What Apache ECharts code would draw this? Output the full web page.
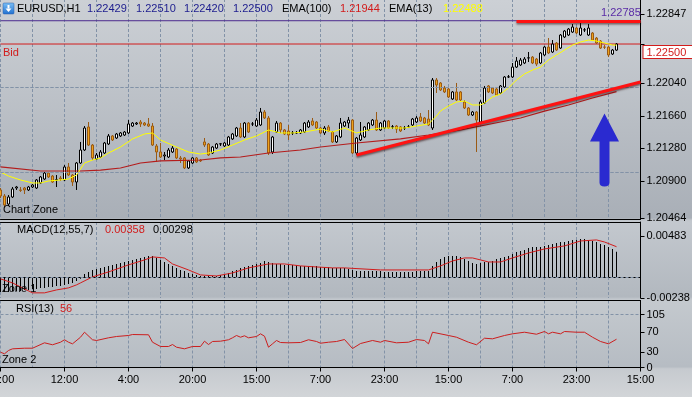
<!DOCTYPE html>
<html>
<head>
<meta charset="utf-8">
<script src="https://cdn.jsdelivr.net/npm/echarts@6/dist/echarts.min.js"></script>
<style>
  html, body { margin: 0; padding: 0; background: #c8ccd1; }
  #main { width: 692px; height: 397px; }
</style>
</head>
<body>
<div id="main"></div>
<script>
// EURUSD H1, one entry per bar (bar 0 = leftmost)
var timeLabels = ['20:00', '12:00', '4:00', '20:00', '15:00', '7:00', '23:00', '15:00', '7:00', '23:00', '15:00'];

var opens = [1.20795,1.20725,1.20631,1.20713,1.20818,1.20795,1.20818,1.20795,1.20830,1.20818,
  1.20877,1.20923,1.20993,1.20958,1.20912,1.20935,1.20912,1.21064,1.20970,1.20888,
  1.21110,1.21262,1.21531,1.21320,1.21157,1.21180,1.21227,1.21332,1.21426,1.21402,
  1.21426,1.21437,1.21461,1.21542,1.21566,1.21589,1.21577,1.21566,1.21542,1.21309,
  1.21239,1.21192,1.21180,1.21239,1.21274,1.21169,1.21169,1.21052,1.21110,1.21169,
  1.21145,1.21356,1.21332,1.21227,1.21285,1.21332,1.21309,1.21320,1.21391,1.21426,
  1.21519,1.21414,1.21577,1.21566,1.21542,1.21554,1.21706,1.21636,1.21239,1.21472,
  1.21577,1.21496,1.21484,1.21461,1.21461,1.21461,1.21472,1.21531,1.21601,1.21589,
  1.21519,1.21461,1.21531,1.21472,1.21356,1.21414,1.21542,1.21577,1.21612,1.21227,
  1.21379,1.21414,1.21496,1.21554,1.21612,1.21496,1.21519,1.21601,1.21531,1.21542,
  1.21531,1.21519,1.21531,1.21554,1.21589,1.21648,1.21636,1.21624,1.21519,1.22080,
  1.22045,1.21986,1.21975,1.21858,1.21940,1.21940,1.21823,1.21753,1.21671,1.21706,
  1.21589,1.21811,1.22010,1.21986,1.21975,1.21928,1.21998,1.22115,1.22115,1.22231,
  1.22255,1.22278,1.22337,1.22348,1.22325,1.22278,1.22372,1.22465,1.22407,1.22512,
  1.22453,1.22582,1.22605,1.22640,1.22687,1.22605,1.22664,1.22605,1.22629,1.22570,
  1.22535,1.22465,1.22465,1.22383,1.22429];

var closes = [1.20725,1.20620,1.20713,1.20807,1.20830,1.20790,1.20795,1.20830,1.20853,1.20912,
  1.20947,1.20993,1.20947,1.20888,1.20915,1.20923,1.21064,1.20970,1.20888,1.21110,
  1.21262,1.21519,1.21320,1.21169,1.21204,1.21239,1.21344,1.21426,1.21379,1.21449,
  1.21461,1.21472,1.21566,1.21577,1.21577,1.21566,1.21554,1.21542,1.21320,1.21239,
  1.21180,1.21204,1.21262,1.21285,1.21169,1.21157,1.21052,1.21134,1.21169,1.21122,
  1.21134,1.21320,1.21204,1.21297,1.21332,1.21335,1.21344,1.21414,1.21449,1.21519,
  1.21414,1.21577,1.21472,1.21566,1.21612,1.21706,1.21636,1.21227,1.21414,1.21577,
  1.21496,1.21449,1.21437,1.21461,1.21463,1.21496,1.21577,1.21589,1.21554,1.21519,
  1.21461,1.21519,1.21484,1.21356,1.21426,1.21577,1.21589,1.21612,1.21227,1.21402,
  1.21437,1.21531,1.21577,1.21612,1.21496,1.21577,1.21601,1.21519,1.21533,1.21507,
  1.21484,1.21519,1.21531,1.21624,1.21636,1.21601,1.21577,1.21554,1.22080,1.22021,
  1.21963,1.21940,1.21881,1.21940,1.21846,1.21846,1.21753,1.21671,1.21706,1.21612,
  1.21823,1.21986,1.21940,1.21928,1.21904,1.22010,1.22115,1.22117,1.22231,1.22301,
  1.22313,1.22325,1.22339,1.22278,1.22266,1.22395,1.22465,1.22395,1.22500,1.22430,
  1.22605,1.22652,1.22675,1.22699,1.22629,1.22687,1.22666,1.22687,1.22547,1.22512,
  1.22453,1.22463,1.22372,1.22430,1.22500];

var lows = [1.20701,1.20596,1.20608,1.20701,1.20795,1.20772,1.20748,1.20783,1.20818,1.20807,
  1.20865,1.20912,1.20935,1.20877,1.20830,1.20900,1.20900,1.20958,1.20842,1.20795,
  1.21099,1.21250,1.21309,1.21145,1.21145,1.21169,1.21215,1.21320,1.21367,1.21391,
  1.21414,1.21426,1.21449,1.21531,1.21554,1.21531,1.21542,1.21531,1.21309,1.21122,
  1.21169,1.21145,1.21169,1.21227,1.21157,1.21110,1.21040,1.21040,1.21099,1.21110,
  1.21122,1.21297,1.21192,1.21215,1.21274,1.21309,1.21297,1.21309,1.21379,1.21414,
  1.21402,1.21402,1.21461,1.21542,1.21531,1.21542,1.21624,1.21204,1.21215,1.21461,
  1.21461,1.21437,1.21379,1.21437,1.21449,1.21449,1.21461,1.21519,1.21542,1.21507,
  1.21449,1.21437,1.21472,1.21344,1.21344,1.21402,1.21531,1.21519,1.21215,1.21204,
  1.21367,1.21402,1.21484,1.21542,1.21484,1.21484,1.21507,1.21507,1.21507,1.21461,
  1.21472,1.21496,1.21519,1.21542,1.21577,1.21589,1.21566,1.21542,1.21496,1.21928,
  1.21951,1.21928,1.21869,1.21846,1.21834,1.21834,1.21741,1.21659,1.21659,1.21239,
  1.21577,1.21799,1.21928,1.21916,1.21893,1.21916,1.21986,1.22103,1.22103,1.22220,
  1.22243,1.22266,1.22290,1.22266,1.22243,1.22266,1.22360,1.22383,1.22395,1.22418,
  1.22442,1.22570,1.22594,1.22629,1.22617,1.22594,1.22640,1.22594,1.22535,1.22500,
  1.22442,1.22442,1.22348,1.22372,1.22420];

var highs = [1.20818,1.20748,1.20736,1.20830,1.20842,1.20830,1.20830,1.20842,1.20865,1.20923,
  1.20958,1.21005,1.21005,1.20970,1.20970,1.20958,1.21087,1.21110,1.20982,1.21122,
  1.21356,1.21542,1.21589,1.21332,1.21227,1.21262,1.21356,1.21449,1.21437,1.21461,
  1.21472,1.21484,1.21612,1.21589,1.21589,1.21612,1.21589,1.21636,1.21577,1.21332,
  1.21344,1.21239,1.21285,1.21309,1.21285,1.21192,1.21180,1.21145,1.21180,1.21180,
  1.21157,1.21402,1.21344,1.21309,1.21344,1.21344,1.21356,1.21426,1.21461,1.21531,
  1.21577,1.21589,1.21589,1.21589,1.21636,1.21753,1.21729,1.21659,1.21426,1.21601,
  1.21589,1.21507,1.21554,1.21484,1.21484,1.21507,1.21589,1.21612,1.21636,1.21601,
  1.21531,1.21542,1.21554,1.21484,1.21437,1.21636,1.21601,1.21648,1.21624,1.21414,
  1.21589,1.21542,1.21589,1.21624,1.21706,1.21589,1.21612,1.21612,1.21554,1.21554,
  1.21542,1.21542,1.21554,1.21636,1.21659,1.21694,1.21648,1.21729,1.22103,1.22103,
  1.22056,1.22010,1.21986,1.21951,1.22045,1.21951,1.21846,1.21764,1.21718,1.21718,
  1.21846,1.22010,1.22021,1.21998,1.21986,1.22021,1.22126,1.22138,1.22278,1.22348,
  1.22337,1.22348,1.22407,1.22360,1.22337,1.22407,1.22477,1.22570,1.22547,1.22523,
  1.22617,1.22664,1.22687,1.22734,1.22699,1.22745,1.22687,1.22734,1.22640,1.22582,
  1.22547,1.22488,1.22477,1.22442,1.22510];

// [bar, value] readings of the moving averages
var ema13 = [[0,1.21005],[2,1.20958],[5,1.20912],[8,1.20877],[10,1.20877],[12,1.20900],[15,1.20912],
  [17,1.20923],[19,1.20970],[21,1.21110],[23,1.21145],[25,1.21169],[27,1.21227],[30,1.21297],
  [33,1.21391],[36,1.21449],[38,1.21461],[40,1.21379],[44,1.21297],[47,1.21239],[50,1.21215],
  [52,1.21227],[55,1.21262],[58,1.21320],[61,1.21379],[64,1.21426],[67,1.21496],[70,1.21461],
  [73,1.21461],[76,1.21472],[80,1.21507],[83,1.21472],[86,1.21519],[89,1.21461],[92,1.21496],
  [95,1.21519],[98,1.21519],[101,1.21519],[104,1.21542],[107,1.21566],[108,1.21612],[109,1.21659],
  [110,1.21718],[112,1.21776],[114,1.21823],[116,1.21834],[118,1.21788],[120,1.21788],[121,1.21811],
  [123,1.21881],[125,1.21916],[127,1.21986],[129,1.22080],[131,1.22150],[133,1.22196],[135,1.22231],
  [137,1.22313],[139,1.22372],[141,1.22430],[143,1.22488],[145,1.22523],[147,1.22547],[149,1.22535],
  [151,1.22512],[153,1.22488],[154,1.22488]];

var ema100 = [[0,1.21064],[10,1.21017],[20,1.21017],[25,1.21028],[30,1.21052],[35,1.21110],[40,1.21134],
  [50,1.21145],[55,1.21169],[60,1.21180],[67,1.21227],[75,1.21262],[80,1.21297],[89,1.21344],
  [100,1.21391],[107,1.21437],[115,1.21496],[120,1.21542],[125,1.21589],[130,1.21636],[136,1.21717],
  [142,1.21788],[148,1.21869],[154,1.21944]];

var macdHist = [-0.00169,-0.00169,-0.00169,-0.00157,-0.00157,-0.00157,-0.00146,-0.00146,-0.00134,-0.00134,
  -0.00122,-0.00122,-0.00111,-0.00111,-0.00099,-0.00099,-0.00087,-0.00076,-0.00064,-0.00041,
  -0.00017,0.00041,0.00064,0.00087,0.00099,0.00111,0.00122,0.00134,0.00146,0.00157,
  0.00169,0.00180,0.00192,0.00204,0.00215,0.00227,0.00239,0.00250,0.00250,0.00227,
  0.00204,0.00180,0.00157,0.00134,0.00111,0.00087,0.00076,0.00052,0.00041,0.00029,
  0.00017,0.00017,0.00017,0.00017,0.00017,0.00029,0.00041,0.00052,0.00076,0.00087,
  0.00111,0.00122,0.00134,0.00146,0.00157,0.00169,0.00192,0.00180,0.00169,0.00157,
  0.00157,0.00146,0.00146,0.00146,0.00146,0.00134,0.00134,0.00134,0.00134,0.00134,
  0.00122,0.00122,0.00122,0.00111,0.00111,0.00111,0.00111,0.00099,0.00087,0.00076,
  0.00076,0.00076,0.00076,0.00076,0.00076,0.00076,0.00064,0.00064,0.00064,0.00064,
  0.00064,0.00064,0.00064,0.00064,0.00076,0.00076,0.00076,0.00076,0.00134,0.00180,
  0.00215,0.00239,0.00250,0.00250,0.00250,0.00239,0.00215,0.00192,0.00169,0.00157,
  0.00169,0.00180,0.00180,0.00192,0.00215,0.00227,0.00239,0.00250,0.00274,0.00297,
  0.00308,0.00320,0.00343,0.00355,0.00355,0.00355,0.00367,0.00378,0.00390,0.00402,
  0.00413,0.00413,0.00425,0.00437,0.00437,0.00448,0.00448,0.00437,0.00425,0.00413,
  0.00390,0.00378,0.00355,0.00332,0.00298];

var macdSignal = [[0,-0.00017],[3,-0.00064],[5,-0.00111],[8,-0.00180],[11,-0.00180],[14,-0.00146],
  [17,-0.00122],[19,-0.00087],[20,-0.00064],[23,0.00006],[27,0.00064],[32,0.00146],[36,0.00204],
  [38,0.00239],[41,0.00227],[43,0.00157],[47,0.00087],[50,0.00029],[54,0.00017],[58,0.00052],
  [62,0.00111],[67,0.00157],[71,0.00157],[75,0.00134],[79,0.00122],[83,0.00111],[86,0.00111],
  [95,0.00087],[107,0.00087],[110,0.00134],[113,0.00192],[116,0.00227],[118,0.00227],[120,0.00204],
  [122,0.00180],[125,0.00180],[128,0.00227],[132,0.00285],[136,0.00332],[141,0.00367],[145,0.00425],
  [149,0.00437],[151,0.00413],[154,0.00358]];

var rsi = [[0,30.3],[1,27.1],[2,33.7],[3,37.0],[6,38.2],[8,38.2],[11,48.9],[13,45.0],[15,50.1],[16,54.9],
  [17,50.1],[18,46.9],[20,60.0],[21,69.9],[23,54.9],[24,53.5],[27,58.8],[29,61.4],[32,63.4],[33,65.3],
  [37,64.8],[38,50.1],[40,41.6],[42,41.6],[43,45.5],[44,40.2],[46,37.0],[48,41.6],[50,41.6],[51,52.1],
  [52,45.5],[53,51.5],[55,52.1],[57,54.9],[58,58.8],[59,63.4],[60,60.0],[61,62.8],[62,58.8],[64,61.4],
  [65,66.7],[66,62.0],[67,40.2],[68,46.9],[69,53.5],[70,49.5],[72,48.9],[75,49.5],[77,54.9],[79,51.5],
  [80,48.1],[82,50.1],[84,51.5],[86,55.4],[88,37.6],[90,47.5],[93,53.5],[95,50.1],[96,53.5],[99,48.9],
  [102,50.1],[104,55.4],[106,53.5],[107,46.9],[108,69.9],[112,63.4],[114,60.0],[117,50.1],[119,45.0],
  [121,58.0],[123,56.8],[126,63.4],[128,66.7],[131,69.9],[134,65.9],[136,71.3],[137,66.7],[138,69.9],
  [140,66.7],[141,71.3],[144,69.9],[146,69.9],[148,60.0],[150,51.5],[152,46.9],[154,56]];

// drawn objects and scale marks
var trendLine = [[89, 1.21204], [160, 1.22056]];
var resistance = [[129, 1.22762], [160, 1.22762]];
var highLevel = 1.22772;
var bidPrice = 1.225;
var arrowAt = [[151, 1.21262]];
var priceTicks = [1.22847, 1.22500, 1.22040, 1.21660, 1.21280, 1.20900, 1.20464];
var priceGrid = [1.2204, 1.2166, 1.2128, 1.2090];
var macdTicks = [0.00483, -0.00238];
var rsiTicks = [0, 30, 70, 105];

var FONT = '"Liberation Sans", Arial, sans-serif';
var RED = '#d21c1c';
var GRIDLINE = { color: '#8292a7', type: [3, 2], width: 1 };

var categories = [];
for (var i = 0; i <= 160; i++) categories.push(String(i));

var candles = opens.map(function (o, i) { return [o, closes[i], lows[i], highs[i]]; });
var last = opens.length - 1;

function flat(v) { return [[0, v], [160, v]]; }

function xAxisFor(grid, opts) {
  var ax = {
    type: 'category', gridIndex: grid, data: categories, boundaryGap: false,
    axisLine: { show: true, lineStyle: { color: '#000', width: 1 } },
    axisTick: { show: false }, axisLabel: { show: false },
    splitLine: { show: true, interval: 7, lineStyle: GRIDLINE }
  };
  for (var k in opts) ax[k] = opts[k];
  return ax;
}

function gridLines(x, y, values) {
  return {
    type: 'line', xAxisIndex: x, yAxisIndex: y, data: [], silent: true, z: 1,
    markLine: {
      symbol: 'none', silent: true, animation: false, label: { show: false },
      lineStyle: GRIDLINE,
      data: values.map(function (v) { return { yAxis: v }; })
    }
  };
}

var txt = function (s, x, y, color) {
  return { type: 'text', x: x, y: y, silent: true, z: 100,
    style: { text: s, fill: color || '#000', font: '11px ' + FONT, verticalAlign: 'middle' } };
};

var navy = '#1c1c8e';
var graphics = [
  { type: 'rect', shape: { x: 3, y: 3, width: 11, height: 11, r: 1 }, silent: true, z: 100,
    style: { fill: new echarts.graphic.LinearGradient(0, 0, 0, 1, [{ offset: 0, color: '#7cc0f6' }, { offset: 1, color: '#1f6fd0' }]), stroke: '#2a5fa8', lineWidth: 0.5 } },
  { type: 'rect', shape: { x: 7.5, y: 5, width: 2, height: 3.5 }, style: { fill: '#fff' }, silent: true, z: 101 },
  { type: 'polygon', shape: { points: [[5.5, 8.5], [11.5, 8.5], [8.5, 12]] }, style: { fill: '#fff' }, silent: true, z: 101 },
  txt('EURUSD,H1', 17, 9),
  txt(opens[last].toFixed(5), 87, 9, navy),
  txt(highs[last].toFixed(5), 136, 9, navy),
  txt(lows[last].toFixed(5), 184, 9, navy),
  txt(closes[last].toFixed(5), 233, 9, navy),
  txt('EMA(100)', 282, 9),
  txt(ema100[ema100.length - 1][1].toFixed(5), 340, 9, RED),
  txt('EMA(13)', 389, 9),
  txt(ema13[ema13.length - 1][1].toFixed(5), 443, 9, '#ffff00'),
  txt('1.22785', 601, 13, '#5a2ca6'),
  txt('Bid', 3, 53, RED),
  txt('Chart Zone', 3, 210),
  txt('MACD(12,55,7)', 17, 230),
  txt(macdSignal[macdSignal.length - 1][1].toFixed(5), 105, 230, RED),
  txt(macdHist[last].toFixed(5), 153, 230),
  txt('Zone 1', 2, 289),
  txt('RSI(13)', 16, 309),
  txt(String(rsi[rsi.length - 1][1]), 60, 309, RED),
  txt('Zone 2', 2, 360)
];

var arrowPath = 'path://M14.5 0 L29 28 L19.5 28 L19.5 69 Q19.5 73 14.5 73 Q9.5 73 9.5 69 L9.5 28 L0 28 Z';

var option = {
  animation: false,
  backgroundColor: new echarts.graphic.LinearGradient(0, 0, 0, 1, [
    { offset: 0, color: '#ccd0d5' },
    { offset: 0.549, color: '#a9afb7' },
    { offset: 0.554, color: '#c0c5cb' },
    { offset: 0.559, color: '#c3c8ce' },
    { offset: 0.748, color: '#b2b8bf' },
    { offset: 0.753, color: '#c1c6cc' },
    { offset: 0.758, color: '#c4c9ce' },
    { offset: 0.924, color: '#b6bcc3' },
    { offset: 0.929, color: '#c6cacf' },
    { offset: 1, color: '#d2d5d8' }
  ]),
  textStyle: { fontFamily: FONT, fontSize: 11 },
  grid: [
    { left: 0.5, right: 51.5, top: -1, height: 220, outerBoundsMode: 'none' },
    { left: 0.5, right: 51.5, top: 222, height: 76, outerBoundsMode: 'none' },
    { left: 0.5, right: 51.5, top: 300.5, height: 67, outerBoundsMode: 'none' }
  ],
  xAxis: [
    xAxisFor(0, {}),
    xAxisFor(1, {}),
    xAxisFor(2, {
      axisTick: { show: true, interval: 15, length: 4, lineStyle: { color: '#000' } },
      axisLabel: {
        show: true, interval: 15, margin: 7, color: '#000', fontSize: 11, fontFamily: FONT,
        formatter: function (v, idx) { return timeLabels[idx / 16] || ''; }
      }
    }),
    xAxisFor(1, { position: 'top', splitLine: { show: false } }),
    xAxisFor(2, { position: 'top', splitLine: { show: false } })
  ],
  yAxis: [
    {
      type: 'value', gridIndex: 0, position: 'right', min: 1.20456, max: 1.23026, scale: true,
      splitLine: { show: false },
      axisLine: { show: true, lineStyle: { color: '#000' } },
      axisTick: { show: true, length: 4, customValues: priceTicks, lineStyle: { color: '#000' } },
      axisLabel: {
        customValues: priceTicks, margin: 3,
        formatter: function (v) {
          if (Math.abs(v - bidPrice) < 1e-7) return '{g| }\n{b|' + v.toFixed(5) + '}';
          return '{n|' + v.toFixed(5) + '}';
        },
        rich: {
          n: { padding: [0, 0, 0, 3], color: '#000', fontSize: 11, fontFamily: FONT },
          g: { lineHeight: 16, fontSize: 1 },
          b: { color: RED, backgroundColor: '#ffffff', borderColor: RED, borderWidth: 1,
               padding: [1, 14, 0, 3], lineHeight: 11, fontSize: 11, fontFamily: FONT }
        }
      }
    },
    {
      type: 'value', gridIndex: 1, position: 'right', min: -0.0024, max: 0.00646,
      splitLine: { show: false },
      axisLine: { show: true, lineStyle: { color: '#000' } },
      axisTick: { show: true, length: 4, customValues: macdTicks, lineStyle: { color: '#000' } },
      axisLabel: { customValues: macdTicks, margin: 6, color: '#000', fontSize: 11, fontFamily: FONT,
        formatter: function (v) { return v.toFixed(5); } }
    },
    {
      type: 'value', gridIndex: 2, position: 'right', min: 0, max: 132.7,
      splitLine: { show: false },
      axisLine: { show: true, lineStyle: { color: '#000' } },
      axisTick: { show: true, length: 4, customValues: rsiTicks, lineStyle: { color: '#000' } },
      axisLabel: { customValues: rsiTicks, margin: 6, color: '#000', fontSize: 11, fontFamily: FONT,
        formatter: function (v) { return String(v); } }
    }
  ],
  series: [
    gridLines(0, 0, priceGrid),
    gridLines(1, 1, [macdTicks[0]]),
    gridLines(2, 2, [105]),
    { name: 'high', type: 'line', xAxisIndex: 0, yAxisIndex: 0, data: flat(highLevel), showSymbol: false, silent: true, z: 2,
      lineStyle: { color: '#4b2a8e', width: 1 } },
    { name: 'bid', type: 'line', xAxisIndex: 0, yAxisIndex: 0, data: flat(bidPrice), showSymbol: false, silent: true, z: 2,
      lineStyle: { color: RED, width: 1 } },
    { name: 'EURUSD', type: 'candlestick', xAxisIndex: 0, yAxisIndex: 0, data: candles, barWidth: 3, z: 3,
      itemStyle: { color: '#ffffff', color0: '#eea21b', borderColor: '#000000', borderColor0: '#9a5a14', borderWidth: 1 } },
    { name: 'EMA(100)', type: 'line', xAxisIndex: 0, yAxisIndex: 0, data: ema100, showSymbol: false, z: 4,
      lineStyle: { color: '#b41c1c', width: 1.2 } },
    { name: 'EMA(13)', type: 'line', xAxisIndex: 0, yAxisIndex: 0, data: ema13, showSymbol: false, z: 4,
      lineStyle: { color: '#ffff00', width: 1 } },
    { name: 'trend', type: 'line', xAxisIndex: 0, yAxisIndex: 0, data: trendLine, showSymbol: false, z: 5,
      lineStyle: { color: '#ff1212', width: 3, shadowColor: 'rgba(40,0,0,0.55)', shadowBlur: 2, shadowOffsetY: 1.5 } },
    { name: 'resistance', type: 'line', xAxisIndex: 0, yAxisIndex: 0, data: resistance, showSymbol: false, z: 5,
      lineStyle: { color: '#ff1212', width: 3, shadowColor: 'rgba(40,0,0,0.55)', shadowBlur: 2, shadowOffsetY: 1.5 } },
    { name: 'arrow', type: 'scatter', xAxisIndex: 0, yAxisIndex: 0, data: arrowAt, symbol: arrowPath,
      symbolSize: [29, 73], silent: true, z: 6, itemStyle: { color: '#2a2ad0', opacity: 1 } },
    { name: 'MACD', type: 'bar', xAxisIndex: 1, yAxisIndex: 1, data: macdHist, barWidth: 1, z: 3,
      itemStyle: { color: '#000000' } },
    { name: 'Signal', type: 'line', xAxisIndex: 1, yAxisIndex: 1, data: macdSignal, showSymbol: false, z: 4,
      lineStyle: { color: RED, width: 1 } },
    { name: 'RSI(13)', type: 'line', xAxisIndex: 2, yAxisIndex: 2, data: rsi, showSymbol: false, z: 4,
      lineStyle: { color: '#cc1e1e', width: 1 } }
  ],
  graphic: graphics
};

var chart = echarts.init(document.getElementById('main'));
chart.setOption(option);
</script>
</body>
</html>
